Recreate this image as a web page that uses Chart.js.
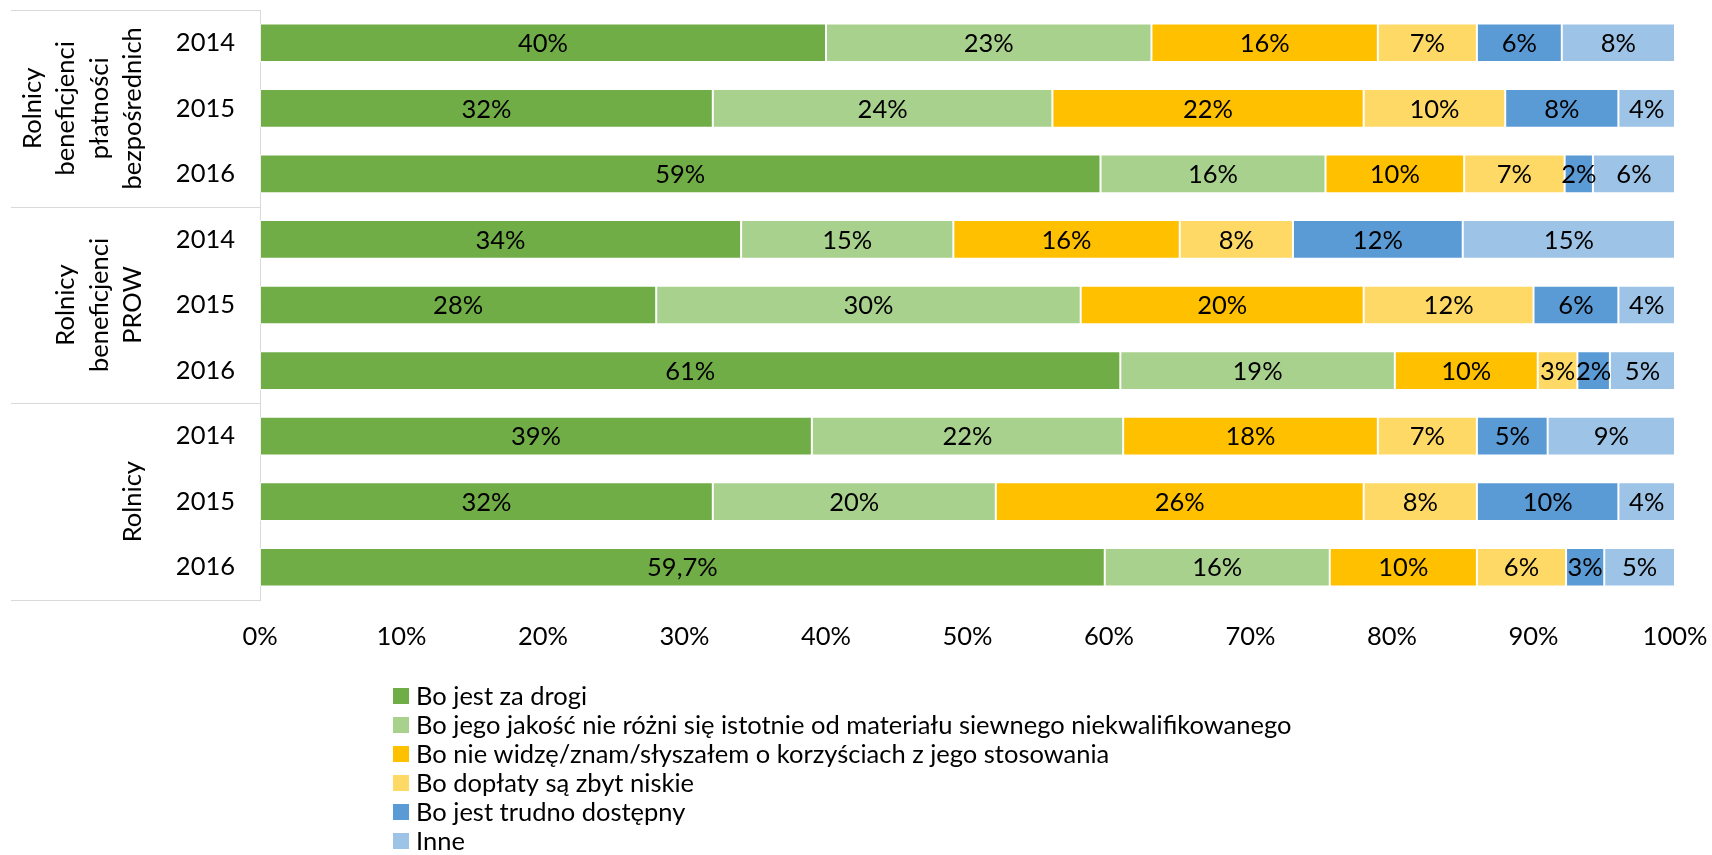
<!DOCTYPE html>
<html>
<head>
<meta charset="utf-8">
<script src="https://cdn.jsdelivr.net/npm/chart.js@4.4.1/dist/chart.umd.min.js"></script>
<style>
  html, body { margin: 0; padding: 0; background: #ffffff; }
  #wrap { width: 1712px; height: 855px; position: relative; }
</style>
</head>
<body>
<div id="wrap"><canvas id="c" width="1712" height="855"></canvas></div>
<script>
// ---- data ----
const years = ['2014', '2015', '2016', '2014', '2015', '2016', '2014', '2015', '2016'];
const groupLabels = [
  ['Rolnicy', 'beneficjenci', 'płatności', 'bezpośrednich'],
  ['Rolnicy', 'beneficjenci', 'PROW'],
  ['Rolnicy']
];
const seriesNames = [
  'Bo jest za drogi',
  'Bo jego jakość nie różni się istotnie od materiału siewnego niekwalifikowanego',
  'Bo nie widzę/znam/słyszałem o korzyściach z jego stosowania',
  'Bo dopłaty są zbyt niskie',
  'Bo jest trudno dostępny',
  'Inne'
];
const zaDrogi   = [40, 32, 59.4, 34, 28, 60.8, 39, 32, 59.7];
const jakosc    = [23, 24, 15.9, 15, 30, 19.4, 22, 20, 15.9];
const korzysci  = [16, 22, 9.8, 16, 20, 10.1, 18, 26, 10.4];
const doplaty   = [7, 10, 7.1, 8, 12, 2.8, 7, 8, 6.3];
const trudno    = [6, 8, 2.0, 12, 6, 2.3, 5, 10, 2.7];
const inne      = [8, 4, 5.8, 15, 4, 4.6, 9, 4, 5.0];

const zaDrogiLbl  = ['40%', '32%', '59%', '34%', '28%', '61%', '39%', '32%', '59,7%'];
const jakoscLbl   = ['23%', '24%', '16%', '15%', '30%', '19%', '22%', '20%', '16%'];
const korzysciLbl = ['16%', '22%', '10%', '16%', '20%', '10%', '18%', '26%', '10%'];
const doplatyLbl  = ['7%', '10%', '7%', '8%', '12%', '3%', '7%', '8%', '6%'];
const trudnoLbl   = ['6%', '8%', '2%', '12%', '6%', '2%', '5%', '10%', '3%'];
const inneLbl     = ['8%', '4%', '6%', '15%', '4%', '5%', '9%', '4%', '5%'];

const xTickMax = 100;
const xTickStep = 10;

// ---- styles ----
const colors = ['#70AD47', '#A9D18E', '#FFC000', '#FFD966', '#5B9BD5', '#9DC3E6'];
const FONT = 'Lato, "Open Sans", "Noto Sans", sans-serif';
const FS = 25.5;

const seriesValues = [zaDrogi, jakosc, korzysci, doplaty, trudno, inne];
const seriesLabels = [zaDrogiLbl, jakoscLbl, korzysciLbl, doplatyLbl, trudnoLbl, inneLbl];

const datasets = seriesNames.map((name, i) => ({
  label: name,
  data: seriesValues[i],
  valueLabels: seriesLabels[i],
  backgroundColor: colors[i],
  borderColor: 'rgba(255,255,255,0.55)',
  borderWidth: 1,
  borderSkipped: false,
  categoryPercentage: 1.0,
  barPercentage: 0.59
}));

const LABEL_LEFT = 11;
const lineColor = '#d9d9d9';

const decorPlugin = {
  id: 'decor',
  afterDatasetsDraw(chart) {
    const ctx = chart.ctx;
    ctx.save();
    ctx.font = FS + 'px ' + FONT;
    ctx.fillStyle = '#000000';
    ctx.textAlign = 'center';
    ctx.textBaseline = 'middle';
    chart.data.datasets.forEach((ds, di) => {
      const meta = chart.getDatasetMeta(di);
      meta.data.forEach((bar, i) => {
        const p = bar.getProps(['x', 'y', 'base'], true);
        const cx = (p.x + p.base) / 2;
        ctx.fillText(ds.valueLabels[i], cx, p.y + 1);
      });
    });
    ctx.restore();
  },
  afterDraw(chart) {
    const ctx = chart.ctx;
    const area = chart.chartArea;
    const n = chart.data.labels.length;
    const rowH = (area.bottom - area.top) / n;
    ctx.save();
    ctx.strokeStyle = lineColor;
    ctx.lineWidth = 1;
    const groupSize = 3;
    for (let g = 0; g <= groupLabels.length; g++) {
      const y = Math.round(area.top + g * groupSize * rowH) + 0.5;
      ctx.beginPath();
      ctx.moveTo(LABEL_LEFT, y);
      ctx.lineTo(area.left, y);
      ctx.stroke();
    }
    ctx.restore();

    ctx.save();
    ctx.font = FS + 'px ' + FONT;
    ctx.fillStyle = '#000000';
    ctx.textAlign = 'center';
    ctx.textBaseline = 'middle';
    const lastX = 133;
    const lineGap = 33.5;
    groupLabels.forEach((lines, g) => {
      const cy = area.top + (g * groupSize + groupSize / 2) * rowH;
      lines.forEach((txt, li) => {
        const x = lastX - (lines.length - 1 - li) * lineGap;
        ctx.save();
        ctx.translate(x, cy);
        ctx.rotate(-Math.PI / 2);
        ctx.fillText(txt, 0, 0);
        ctx.restore();
      });
    });
    ctx.restore();

    ctx.save();
    ctx.font = FS + 'px ' + FONT;
    ctx.textAlign = 'left';
    ctx.textBaseline = 'middle';
    const lx = 393, ly0 = 696, lstep = 29, box = 16;
    chart.data.datasets.forEach((ds, i) => {
      const cy = ly0 + i * lstep;
      ctx.fillStyle = ds.backgroundColor;
      ctx.fillRect(lx, cy - box / 2, box, box);
      ctx.fillStyle = '#000000';
      ctx.fillText(ds.label, lx + 23, cy + 1);
    });
    ctx.restore();
  }
};

new Chart(document.getElementById('c'), {
  type: 'bar',
  data: { labels: years, datasets: datasets },
  options: {
    indexAxis: 'y',
    responsive: false,
    animation: false,
    layout: { padding: { top: 10, right: 37, left: 0, bottom: 0 } },
    plugins: {
      legend: { display: false },
      tooltip: { enabled: false }
    },
    scales: {
      x: {
        stacked: true,
        min: 0,
        max: xTickMax,
        grid: { display: false, drawTicks: false },
        border: { display: false },
        ticks: {
          stepSize: xTickStep,
          padding: 21,
          color: '#000000',
          font: { family: FONT, size: FS },
          callback: v => v + '%',
          maxRotation: 0
        },
        afterFit(scale) {
          scale.height = 255;
          scale.paddingLeft = 0;
          scale.paddingRight = 0;
        }
      },
      y: {
        stacked: true,
        grid: { display: false, drawTicks: false },
        border: { display: true, color: lineColor, width: 1 },
        ticks: {
          padding: 25,
          color: '#000000',
          font: { family: FONT, size: FS }
        },
        afterFit(scale) {
          scale.width = 260;
          scale.paddingTop = 0;
          scale.paddingBottom = 0;
        }
      }
    }
  },
  plugins: [decorPlugin]
});
</script>
</body>
</html>
